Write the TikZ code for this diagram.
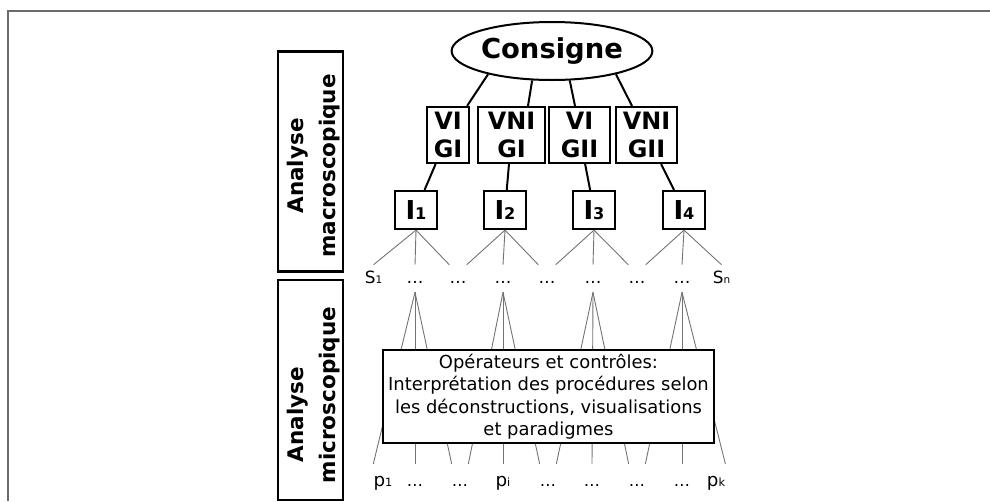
\documentclass[tikz,border=0pt]{standalone}
\usepackage{fontspec}
\setmainfont{DejaVu Sans}
\usepackage{graphicx}
\usetikzlibrary{shapes.geometric,calc}
\newcommand\PX{0.025cm}
\newcommand\lsub[1]{\scalebox{0.62}{#1}}
\begin{document}
\begin{tikzpicture}[x=0.025cm,y=-0.025cm,
  frameline/.style={draw=black!58, line width=1.8*\PX},
  mainline/.style={draw=black, line width=2*\PX},
  fanline/.style={draw=black!55, line width=0.9*\PX},
  vbox/.style={draw=black, line width=2.2*\PX, fill=white, inner sep=0pt, align=center,
    minimum height=56*\PX, font=\bfseries\fontsize{17pt}{20pt}\selectfont},
  ibox/.style={draw=black, line width=2.2*\PX, fill=white, inner sep=0pt,
    minimum width=42*\PX, minimum height=38*\PX, font=\bfseries\fontsize{18.5pt}{20pt}\selectfont},
  slbl/.style={inner sep=0pt, anchor=base, text height=12.8pt, text depth=6.4pt,
    font=\fontsize{12pt}{13pt}\selectfont},
  plbl/.style={inner sep=0pt, anchor=base, text height=15.6pt, text depth=2pt,
    font=\fontsize{11.5pt}{13pt}\selectfont},
  pbig/.style={font=\fontsize{13pt}{14pt}\selectfont},
  sidebox/.style={draw=black, line width=2.2*\PX, inner sep=0pt,
    minimum width=65*\PX, minimum height=220*\PX},
  sidetext/.style={rotate=90, inner sep=0pt, align=center,
    font=\bfseries\fontsize{15.3pt}{22.7pt}\selectfont},
  opbox/.style={draw=black, line width=2.2*\PX, fill=white, inner sep=0pt, align=center,
    minimum width=331*\PX, minimum height=93*\PX,
    font=\fontsize{12.75pt}{16pt}\selectfont}
]
\useasboundingbox (0,0) rectangle (990,501);
\draw[frameline] (8,501) -- (8,11) -- (990,11);

% side boxes
\node[sidebox] (macro) at (310.5,161.5) {};
\node[sidetext] (macrotxt) at (314,166) {Analyse\\macroscopique};
\node[sidebox] (micro) at (310.5,390) {};
\node[sidetext] (microtxt) at (314,395) {Analyse\hspace*{28pt}\\microscopique};

% consigne
\node[ellipse, draw=black, line width=2*\PX, inner sep=0pt, minimum width=182*\PX,
  minimum height=58*\PX, font=\bfseries\fontsize{19.5pt}{22pt}\selectfont] (cons) at (552,51) {Consigne};

% VI/GI boxes
\node[vbox, minimum width=42*\PX] (v1) at (448,135) {VI\\GI};
\node[vbox, minimum width=67*\PX] (v2) at (511.5,135) {VNI\\GI};
\node[vbox, minimum width=61*\PX] (v3) at (579.5,135) {VI\\GII};
\node[vbox, minimum width=61*\PX] (v4) at (646.5,135) {VNI\\GII};

% I boxes
\node[ibox] (i1) at (416,210) {I\lsub{1}};
\node[ibox] (i2) at (505,210) {I\lsub{2}};
\node[ibox] (i3) at (594,210) {I\lsub{3}};
\node[ibox] (i4) at (684,210) {I\lsub{4}};

% connectors top
\draw[mainline] (cons.200.6) -- ($(v1.north east)+(-3,0)$);
\draw[mainline] (cons.236.8) -- ($(v2.north)+(16.5,0)$);
\draw[mainline] (cons.301.8) -- ($(v3.north)+(-4.5,0)$);
\draw[mainline] (cons.340.8) -- ($(v4.north)+(-14.5,0)$);
\draw[mainline] (v1) -- (i1);
\draw[mainline] (v2) -- (i2);
\draw[mainline] (v3) -- (i3);
\draw[mainline] (v4) -- (i4);

% S row
\node[slbl] (s0) at (373.5,283) {S\lsub{1}};
\node[slbl] (s1) at (415,283) {…};
\node[slbl] (s2) at (458,283) {…};
\node[slbl] (s3) at (503,283) {…};
\node[slbl] (s4) at (547,283) {…};
\node[slbl] (s5) at (593,283) {…};
\node[slbl] (s6) at (637,283) {…};
\node[slbl] (s7) at (682,283) {…};
\node[slbl] (s8) at (721.5,283) {S\lsub{n}};

% p row
\node[plbl,pbig] (p0) at (383,486) {p\lsub{1}};
\node[plbl] (p1) at (415,486) {…};
\node[plbl] (p2) at (460,486) {…};
\node[plbl,pbig] (p3) at (503,486) {p\lsub{i}};
\node[plbl] (p4) at (548,486) {…};
\node[plbl] (p5) at (592,486) {…};
\node[plbl] (p6) at (637,486) {…};
\node[plbl] (p7) at (682,486) {…};
\node[plbl,pbig] (p8) at (716,486) {p\lsub{k}};

% fans I -> S
\draw[fanline] (i1.south) -- (s0.north);
\draw[fanline] (i1.south) -- (s1.north);
\draw[fanline] (i1.south) -- (s2.north west);
\draw[fanline] (i2.south) -- (s2.north east);
\draw[fanline] (i2.south) -- (s3.north);
\draw[fanline] (i2.south) -- (s4.north west);
\draw[fanline] (i3.south) -- (s4.north east);
\draw[fanline] (i3.south) -- (s5.north);
\draw[fanline] (i3.south) -- (s6.north west);
\draw[fanline] (i4.south) -- (s6.north east);
\draw[fanline] (i4.south) -- (s7.north);
\draw[fanline] (i4.south) -- (s8.north);

% fans S -> p
\draw[fanline] (s1.south) -- (p0.north west);
\draw[fanline] (s1.south) -- (p1.north);
\draw[fanline] (s1.south) -- (p2.north west);
\draw[fanline] (s3.south) -- (p2.north east);
\draw[fanline] (s3.south) -- (p3.north);
\draw[fanline] (s3.south) -- (p4.north west);
\draw[fanline] (s5.south) -- (p4.north east);
\draw[fanline] (s5.south) -- (p5.north);
\draw[fanline] (s5.south) -- (p6.north west);
\draw[fanline] (s7.south) -- (p6.north east);
\draw[fanline] (s7.south) -- (p7.north);
\draw[fanline] (s7.south) -- (p8.north east);

% operators box
\node[opbox] (ops) at (548.5,396.5) {Opérateurs et contrôles:\\Interprétation des procédures selon\\les déconstructions, visualisations\\et paradigmes};
\end{tikzpicture}
\end{document}
